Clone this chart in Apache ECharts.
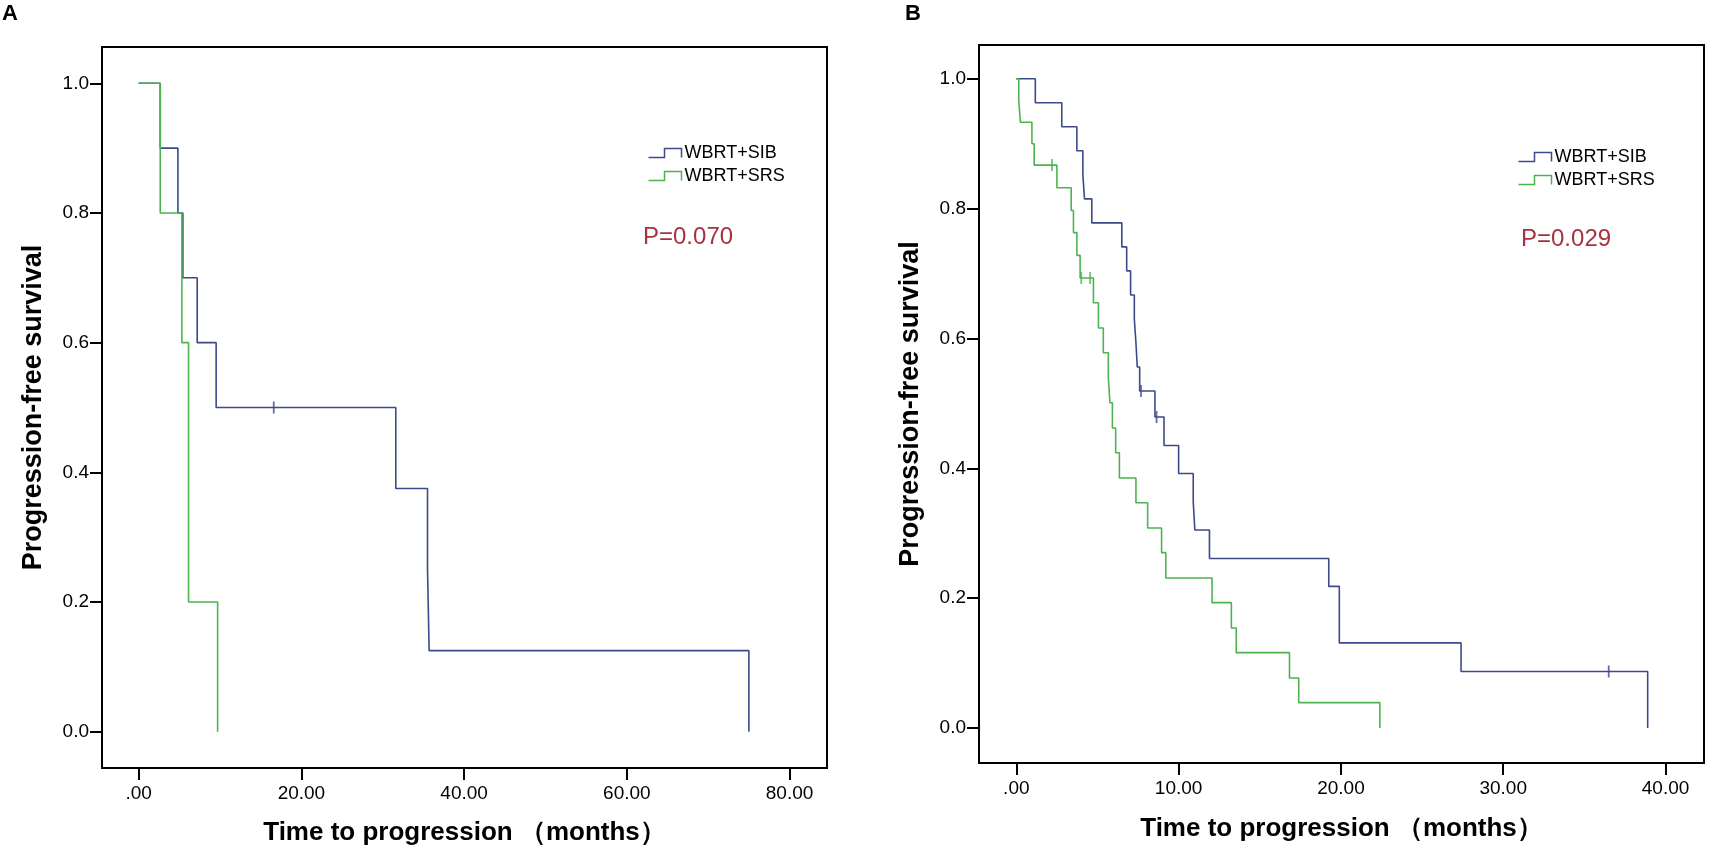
<!DOCTYPE html>
<html>
<head>
<meta charset="utf-8">
<script src="https://cdn.jsdelivr.net/npm/echarts@6/dist/echarts.min.js"></script>
<style>
html,body{margin:0;padding:0;background:#fff;}
#chart{width:1713px;height:862px;}
</style>
</head>
<body>
<div id="chart"></div>
<script>
// ---------- data ----------
const seriesNames = ['WBRT+SIB', 'WBRT+SRS'];
const pValueA = 'P=0.070';
const pValueB = 'P=0.029';
const xTicksA = [0, 20, 40, 60, 80];
const xTicksB = [0, 10, 20, 30, 40];
const yTicks = [0, 0.2, 0.4, 0.6, 0.8, 1.0];
const xTitle = 'Time to progression （months）';
const yTitle = 'Progression-free survival';

// Panel A: [time (months), survival]
const panelA_SIB = [[0,1],[2.65,0.9],[4.82,0.8],[5.43,0.7],[7.19,0.6],[9.52,0.5],[31.6,0.375],[35.5,0.25],[35.7,0.125],[75.0,0]];
const panelA_SIB_censored = [[16.6,0.5]];
const panelA_SRS = [[0,1],[2.65,0.8],[5.31,0.6],[6.13,0.2],[9.7,0]];
const panelA_SRS_censored = [];

// Panel B
const panelB_SIB = [[0,1],[1.17,0.963],[2.8,0.926],[3.73,0.889],[4.1,0.852],[4.2,0.815],[4.65,0.778],[6.5,0.741],[6.8,0.704],[7.04,0.667],[7.27,0.630],[7.37,0.593],[7.45,0.556],[7.6,0.519],[8.54,0.479],[9.1,0.435],[10.0,0.392],[10.9,0.348],[11.0,0.305],[11.9,0.261],[19.25,0.218],[19.9,0.131],[27.4,0.087],[38.9,0]];
const panelB_SIB_censored = [[7.68,0.519],[8.64,0.479],[36.5,0.087]];
const panelB_SRS = [[0,1],[0.15,0.967],[0.25,0.933],[0.96,0.9],[1.1,0.867],[2.5,0.832],[3.38,0.797],[3.52,0.763],[3.73,0.728],[3.93,0.693],[4.75,0.655],[5.06,0.616],[5.36,0.578],[5.67,0.539],[5.77,0.501],[5.92,0.462],[6.12,0.424],[6.35,0.385],[7.37,0.347],[8.09,0.308],[8.95,0.270],[9.21,0.231],[12.06,0.193],[13.25,0.154],[13.55,0.116],[16.83,0.077],[17.4,0.039],[22.4,0]];
const panelB_SRS_censored = [[2.2,0.867],[4.0,0.693],[4.55,0.693]];

// ---------- styling ----------
const BLUE = '#3d4a8a';
const GREEN = '#4db34f';
const FONT = '"Liberation Sans", Arial, sans-serif';

function fmtX(v){ return v === 0 ? '.00' : v.toFixed(2); }
function fmtY(v){ return v.toFixed(1); }

function xAxisCfg(gridIndex, min, max, ticks, gap){
  return {
    type:'value', gridIndex, min, max,
    name: xTitle, nameLocation:'middle', nameGap:gap,
    nameTextStyle:{fontFamily:FONT, fontWeight:'bold', fontSize:26, color:'#000'},
    splitLine:{show:false},
    axisLine:{show:true, onZero:false, lineStyle:{color:'#000', width:2}},
    axisTick:{show:true, length:12, customValues:ticks, lineStyle:{color:'#000', width:2}},
    axisLabel:{margin:16, customValues:ticks, formatter:fmtX, fontFamily:FONT, fontSize:19, color:'#000'}
  };
}
function yAxisCfg(gridIndex, min, max){
  return {
    type:'value', gridIndex, min, max,
    name: yTitle, nameLocation:'middle', nameGap:55, nameRotate:90,
    nameTextStyle:{fontFamily:FONT, fontWeight:'bold', fontSize:27, color:'#000'},
    splitLine:{show:false},
    axisLine:{show:true, onZero:false, lineStyle:{color:'#000', width:2}},
    axisTick:{show:true, length:12, customValues:yTicks, lineStyle:{color:'#000', width:2}},
    axisLabel:{margin:13, customValues:yTicks, formatter:fmtY, fontFamily:FONT, fontSize:19, color:'#000'}
  };
}
function kmLine(name, data, color, idx){
  return {type:'line', name, data, step:'end', xAxisIndex:idx, yAxisIndex:idx,
    showSymbol:false, symbol:'none', animation:false,
    lineStyle:{color, width:1.6}, itemStyle:{color}};
}
function censor(name, data, color, idx){
  return {type:'scatter', name, data, xAxisIndex:idx, yAxisIndex:idx,
    symbol:'rect', symbolSize:[1.8,12], animation:false, itemStyle:{color}, silent:true};
}
const stepIcon = 'path://M0,9 L16,9 L16,0 L33,0 L33,9';
function legendCfg(left, top){
  return {
    orient:'vertical', left, top, itemWidth:33, itemHeight:9, itemGap:5,
    selectedMode:false,
    textStyle:{fontFamily:FONT, fontSize:18, color:'#000', padding:[0,0,0,-2]},
    data: [
      {name:seriesNames[0], icon:stepIcon, itemStyle:{color:'none', borderColor:BLUE, borderWidth:1.5}},
      {name:seriesNames[1], icon:stepIcon, itemStyle:{color:'none', borderColor:GREEN, borderWidth:1.5}}
    ]
  };
}

const option = {
  backgroundColor:'#fff',
  animation:false,
  grid:[
    {left:102, right:886, top:47, bottom:94, show:true, borderColor:'#000', borderWidth:2, backgroundColor:'#fff'},
    {left:979, right:9, top:45, bottom:99, show:true, borderColor:'#000', borderWidth:2, backgroundColor:'#fff'}
  ],
  xAxis:[ xAxisCfg(0, -4.51, 84.6, xTicksA, 52), xAxisCfg(1, -2.30, 42.37, xTicksB, 53) ],
  yAxis:[ yAxisCfg(0, -0.056, 1.056), yAxisCfg(1, -0.054, 1.052) ],
  legend:[ legendCfg(641, 139), legendCfg(1511, 143) ],
  series:[
    kmLine(seriesNames[0], panelA_SIB, BLUE, 0),
    kmLine(seriesNames[1], panelA_SRS, GREEN, 0),
    censor('A SIB censored', panelA_SIB_censored, BLUE, 0),
    censor('A SRS censored', panelA_SRS_censored, GREEN, 0),
    kmLine(seriesNames[0], panelB_SIB, BLUE, 1),
    kmLine(seriesNames[1], panelB_SRS, GREEN, 1),
    censor('B SIB censored', panelB_SIB_censored, BLUE, 1),
    censor('B SRS censored', panelB_SRS_censored, GREEN, 1)
  ],
  graphic:[
    {type:'text', left:2, top:3, style:{text:'A', font:'bold 22px "Liberation Sans", Arial', fill:'#000'}},
    {type:'text', left:905, top:3, style:{text:'B', font:'bold 22px "Liberation Sans", Arial', fill:'#000'}},
    {type:'text', left:643, top:225, style:{text:pValueA, font:'24px "Liberation Sans", Arial', fill:'#a5333f'}},
    {type:'text', left:1521, top:227, style:{text:pValueB, font:'24px "Liberation Sans", Arial', fill:'#a5333f'}}
  ]
};
const chart = echarts.init(document.getElementById('chart'), null, {renderer:'canvas'});
chart.setOption(option);
</script>
</body>
</html>
